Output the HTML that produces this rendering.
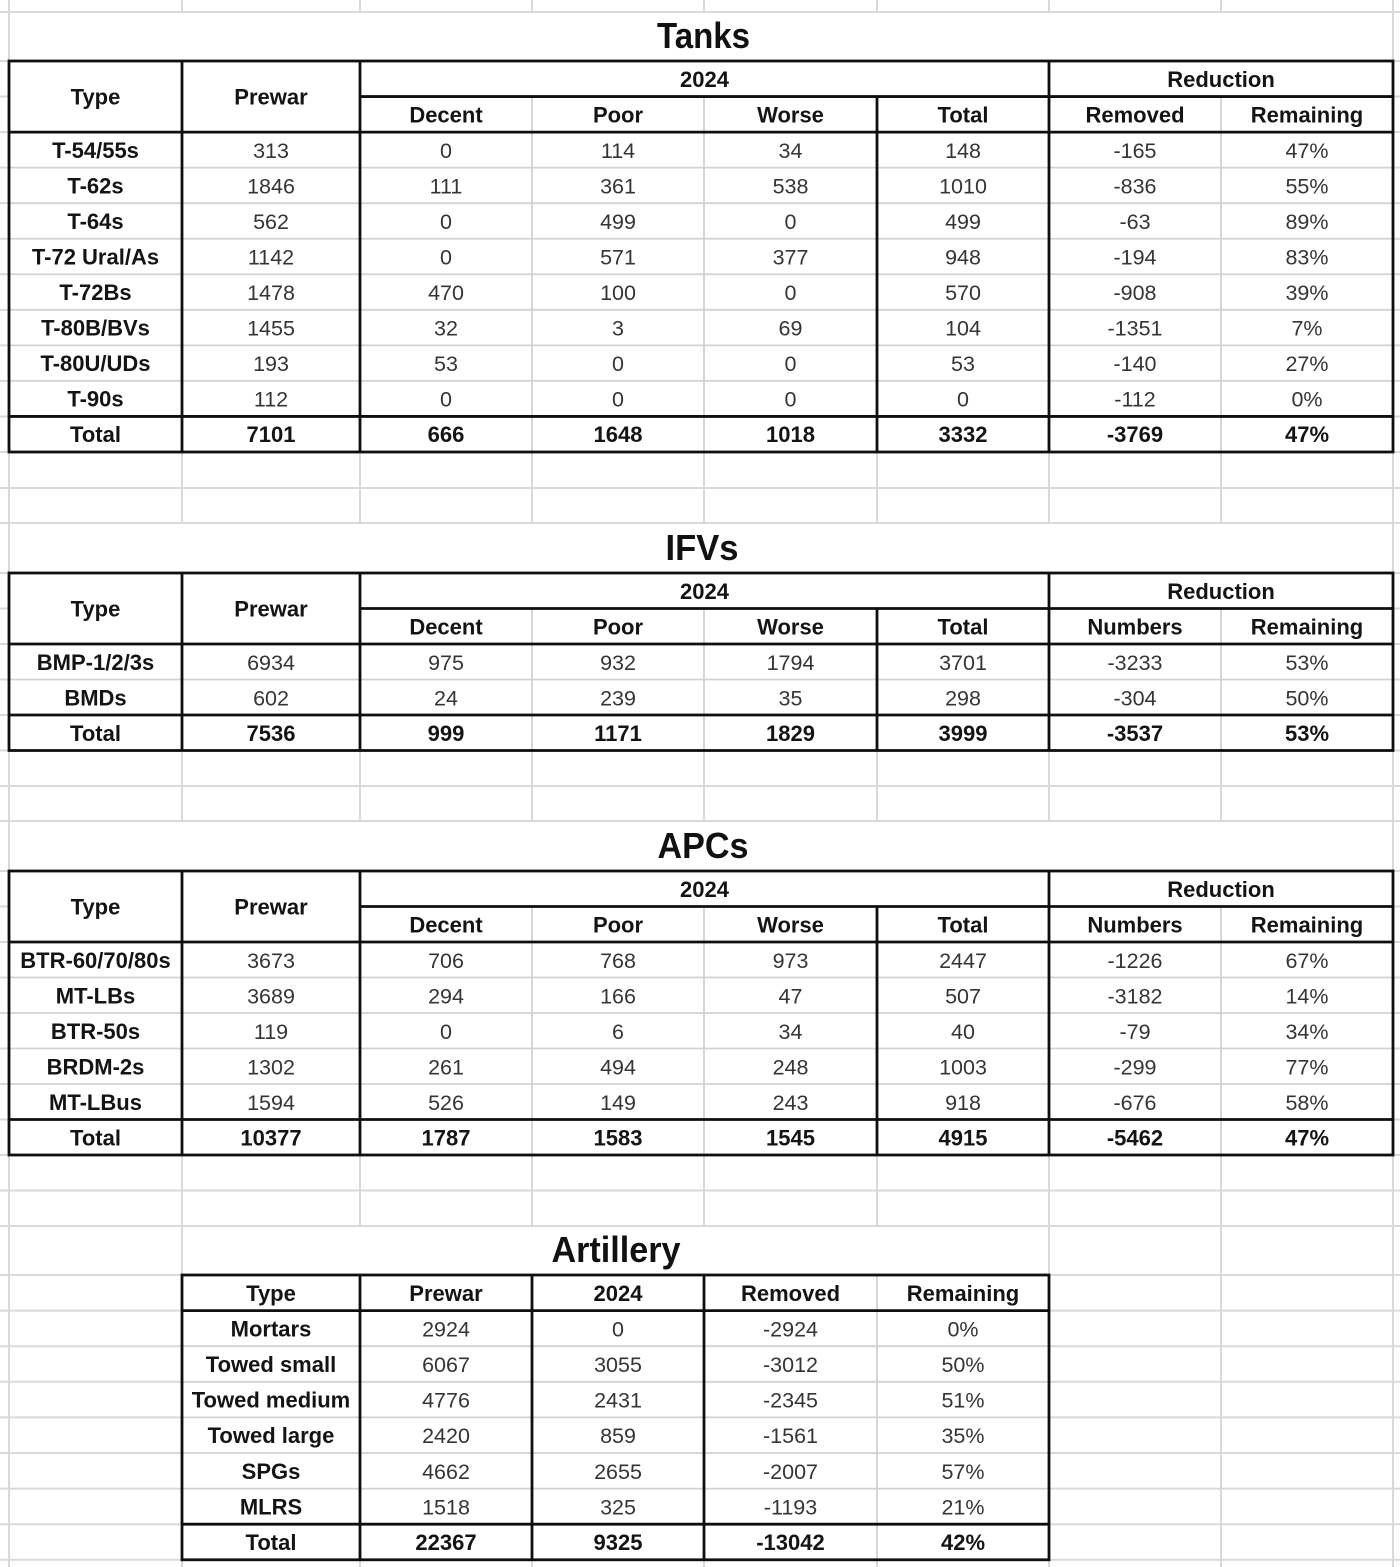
<!DOCTYPE html>
<html>
<head>
<meta charset="utf-8">
<style>
  html, body { margin:0; padding:0; background:#fff; }
  body { width:1400px; height:1567px; overflow:hidden; }
  svg { display:block; }
  .b { font-family:"Liberation Sans", Arial, sans-serif; font-weight:bold; font-size:22px; fill:#141414; text-anchor:middle; }
  .n { font-family:"Liberation Sans", Arial, sans-serif; font-weight:normal; font-size:21.5px; fill:#353535; text-anchor:middle; }
  .t { font-family:"Liberation Sans", Arial, sans-serif; font-weight:bold; font-size:36px; fill:#111; text-anchor:middle; }
  .g { stroke:#d9d9d9; stroke-width:2; fill:none; }
  .l { stroke:#d2d2d2; stroke-width:1.8; fill:none; }
  .k { stroke:#0f0f0f; stroke-width:2.8; fill:none; }
</style>
</head>
<body>
<svg width="1400" height="1567" viewBox="0 0 1400 1567" xmlns="http://www.w3.org/2000/svg">
  <rect x="0" y="0" width="1400" height="1567" fill="#fff"/>

  <!-- spreadsheet gridlines -->
  <path class="g" d="
    M0 12H1400 M0 61H1400 M0 96.55H1400 M0 132.09H1400 M0 167.64H1400 M0 203.18H1400 M0 238.73H1400 M0 274.27H1400
    M0 309.82H1400 M0 345.36H1400 M0 380.91H1400 M0 416.45H1400 M0 452H1400 M0 488H1400 M0 523H1400
    M0 573H1400 M0 608.5H1400 M0 644H1400 M0 679.5H1400 M0 715H1400 M0 750.5H1400 M0 786H1400 M0 821H1400
    M0 871H1400 M0 906.5H1400 M0 942H1400 M0 977.5H1400 M0 1013H1400 M0 1048.5H1400 M0 1084H1400 M0 1119.5H1400
    M0 1155H1400 M0 1190.5H1400 M0 1226H1400 M0 1275H1400 M0 1310.6H1400 M0 1346.2H1400 M0 1381.8H1400
    M0 1417.4H1400 M0 1453H1400 M0 1488.6H1400 M0 1524.2H1400 M0 1559.8H1400
    M9 0V1567 M182 0V1567 M360 0V1567 M532 0V1567 M704 0V1567 M877 0V1567 M1049 0V1567 M1221 0V1567 M1393 0V1567"/>

  <!-- merged title cells -->
  <rect x="10.2" y="13" width="1381.6" height="47" fill="#fff"/>
  <rect x="10.2" y="524" width="1381.6" height="48" fill="#fff"/>
  <rect x="10.2" y="822" width="1381.6" height="48" fill="#fff"/>
  <rect x="183.2" y="1227" width="864.6" height="47" fill="#fff"/>

  <!-- titles -->
  <text class="t" x="703.5" y="48" textLength="93" lengthAdjust="spacingAndGlyphs">Tanks</text>
  <text class="t" x="702" y="560" textLength="73" lengthAdjust="spacingAndGlyphs">IFVs</text>
  <text class="t" x="703" y="858" textLength="91" lengthAdjust="spacingAndGlyphs">APCs</text>
  <text class="t" x="616" y="1262" textLength="129" lengthAdjust="spacingAndGlyphs">Artillery</text>

  <!-- ================= TANKS TABLE ================= -->
  <rect x="9" y="61" width="1384" height="391" fill="#fff"/>
  <path class="l" d="M532 96.55V452 M704 96.55V452 M1221 96.55V452
    M9 167.64H1393 M9 203.18H1393 M9 238.73H1393 M9 274.27H1393 M9 309.82H1393 M9 345.36H1393 M9 380.91H1393"/>
  <rect class="k" x="9" y="61" width="1384" height="391"/>
  <path class="k" d="M182 61V452 M360 61V452 M877 96.55V452 M1049 61V452
    M360 96.55H1393 M9 132.09H1393 M9 416.45H1393"/>

  <text class="b" x="95.5" y="104.5">Type</text>
  <text class="b" x="271" y="104.5">Prewar</text>
  <text class="b" x="704.5" y="86.8">2024</text>
  <text class="b" x="1221" y="86.8">Reduction</text>
  <text class="b" x="446" y="122.3">Decent</text>
  <text class="b" x="618" y="122.3">Poor</text>
  <text class="b" x="790.5" y="122.3">Worse</text>
  <text class="b" x="963" y="122.3">Total</text>
  <text class="b" x="1135" y="122.3">Removed</text>
  <text class="b" x="1307" y="122.3">Remaining</text>

  <g>
    <text class="b" x="95.5" y="157.8">T-54/55s</text><text class="n" x="271" y="157.8">313</text><text class="n" x="446" y="157.8">0</text><text class="n" x="618" y="157.8">114</text><text class="n" x="790.5" y="157.8">34</text><text class="n" x="963" y="157.8">148</text><text class="n" x="1135" y="157.8">-165</text><text class="n" x="1307" y="157.8">47%</text>
    <text class="b" x="95.5" y="193.3">T-62s</text><text class="n" x="271" y="193.3">1846</text><text class="n" x="446" y="193.3">111</text><text class="n" x="618" y="193.3">361</text><text class="n" x="790.5" y="193.3">538</text><text class="n" x="963" y="193.3">1010</text><text class="n" x="1135" y="193.3">-836</text><text class="n" x="1307" y="193.3">55%</text>
    <text class="b" x="95.5" y="228.9">T-64s</text><text class="n" x="271" y="228.9">562</text><text class="n" x="446" y="228.9">0</text><text class="n" x="618" y="228.9">499</text><text class="n" x="790.5" y="228.9">0</text><text class="n" x="963" y="228.9">499</text><text class="n" x="1135" y="228.9">-63</text><text class="n" x="1307" y="228.9">89%</text>
    <text class="b" x="95.5" y="264.4">T-72 Ural/As</text><text class="n" x="271" y="264.4">1142</text><text class="n" x="446" y="264.4">0</text><text class="n" x="618" y="264.4">571</text><text class="n" x="790.5" y="264.4">377</text><text class="n" x="963" y="264.4">948</text><text class="n" x="1135" y="264.4">-194</text><text class="n" x="1307" y="264.4">83%</text>
    <text class="b" x="95.5" y="299.9">T-72Bs</text><text class="n" x="271" y="299.9">1478</text><text class="n" x="446" y="299.9">470</text><text class="n" x="618" y="299.9">100</text><text class="n" x="790.5" y="299.9">0</text><text class="n" x="963" y="299.9">570</text><text class="n" x="1135" y="299.9">-908</text><text class="n" x="1307" y="299.9">39%</text>
    <text class="b" x="95.5" y="335.5">T-80B/BVs</text><text class="n" x="271" y="335.5">1455</text><text class="n" x="446" y="335.5">32</text><text class="n" x="618" y="335.5">3</text><text class="n" x="790.5" y="335.5">69</text><text class="n" x="963" y="335.5">104</text><text class="n" x="1135" y="335.5">-1351</text><text class="n" x="1307" y="335.5">7%</text>
    <text class="b" x="95.5" y="371">T-80U/UDs</text><text class="n" x="271" y="371">193</text><text class="n" x="446" y="371">53</text><text class="n" x="618" y="371">0</text><text class="n" x="790.5" y="371">0</text><text class="n" x="963" y="371">53</text><text class="n" x="1135" y="371">-140</text><text class="n" x="1307" y="371">27%</text>
    <text class="b" x="95.5" y="406.6">T-90s</text><text class="n" x="271" y="406.6">112</text><text class="n" x="446" y="406.6">0</text><text class="n" x="618" y="406.6">0</text><text class="n" x="790.5" y="406.6">0</text><text class="n" x="963" y="406.6">0</text><text class="n" x="1135" y="406.6">-112</text><text class="n" x="1307" y="406.6">0%</text>
    <text class="b" x="95.5" y="442.1">Total</text><text class="b" x="271" y="442.1">7101</text><text class="b" x="446" y="442.1">666</text><text class="b" x="618" y="442.1">1648</text><text class="b" x="790.5" y="442.1">1018</text><text class="b" x="963" y="442.1">3332</text><text class="b" x="1135" y="442.1">-3769</text><text class="b" x="1307" y="442.1">47%</text>
  </g>

  <!-- ================= IFV TABLE ================= -->
  <rect x="9" y="573" width="1384" height="177.5" fill="#fff"/>
  <path class="l" d="M532 608.5V750.5 M704 608.5V750.5 M1221 608.5V750.5 M9 679.5H1393"/>
  <rect class="k" x="9" y="573" width="1384" height="177.5"/>
  <path class="k" d="M182 573V750.5 M360 573V750.5 M877 608.5V750.5 M1049 573V750.5
    M360 608.5H1393 M9 644H1393 M9 715H1393"/>

  <text class="b" x="95.5" y="616.5">Type</text>
  <text class="b" x="271" y="616.5">Prewar</text>
  <text class="b" x="704.5" y="598.8">2024</text>
  <text class="b" x="1221" y="598.8">Reduction</text>
  <text class="b" x="446" y="634.3">Decent</text>
  <text class="b" x="618" y="634.3">Poor</text>
  <text class="b" x="790.5" y="634.3">Worse</text>
  <text class="b" x="963" y="634.3">Total</text>
  <text class="b" x="1135" y="634.3">Numbers</text>
  <text class="b" x="1307" y="634.3">Remaining</text>

  <text class="b" x="95.5" y="669.8">BMP-1/2/3s</text><text class="n" x="271" y="669.8">6934</text><text class="n" x="446" y="669.8">975</text><text class="n" x="618" y="669.8">932</text><text class="n" x="790.5" y="669.8">1794</text><text class="n" x="963" y="669.8">3701</text><text class="n" x="1135" y="669.8">-3233</text><text class="n" x="1307" y="669.8">53%</text>
  <text class="b" x="95.5" y="705.3">BMDs</text><text class="n" x="271" y="705.3">602</text><text class="n" x="446" y="705.3">24</text><text class="n" x="618" y="705.3">239</text><text class="n" x="790.5" y="705.3">35</text><text class="n" x="963" y="705.3">298</text><text class="n" x="1135" y="705.3">-304</text><text class="n" x="1307" y="705.3">50%</text>
  <text class="b" x="95.5" y="740.8">Total</text><text class="b" x="271" y="740.8">7536</text><text class="b" x="446" y="740.8">999</text><text class="b" x="618" y="740.8">1171</text><text class="b" x="790.5" y="740.8">1829</text><text class="b" x="963" y="740.8">3999</text><text class="b" x="1135" y="740.8">-3537</text><text class="b" x="1307" y="740.8">53%</text>

  <!-- ================= APC TABLE ================= -->
  <rect x="9" y="871" width="1384" height="284" fill="#fff"/>
  <path class="l" d="M532 906.5V1155 M704 906.5V1155 M1221 906.5V1155
    M9 977.5H1393 M9 1013H1393 M9 1048.5H1393 M9 1084H1393"/>
  <rect class="k" x="9" y="871" width="1384" height="284"/>
  <path class="k" d="M182 871V1155 M360 871V1155 M877 906.5V1155 M1049 871V1155
    M360 906.5H1393 M9 942H1393 M9 1119.5H1393"/>

  <text class="b" x="95.5" y="914.5">Type</text>
  <text class="b" x="271" y="914.5">Prewar</text>
  <text class="b" x="704.5" y="896.8">2024</text>
  <text class="b" x="1221" y="896.8">Reduction</text>
  <text class="b" x="446" y="932.3">Decent</text>
  <text class="b" x="618" y="932.3">Poor</text>
  <text class="b" x="790.5" y="932.3">Worse</text>
  <text class="b" x="963" y="932.3">Total</text>
  <text class="b" x="1135" y="932.3">Numbers</text>
  <text class="b" x="1307" y="932.3">Remaining</text>

  <text class="b" x="95.5" y="967.8">BTR-60/70/80s</text><text class="n" x="271" y="967.8">3673</text><text class="n" x="446" y="967.8">706</text><text class="n" x="618" y="967.8">768</text><text class="n" x="790.5" y="967.8">973</text><text class="n" x="963" y="967.8">2447</text><text class="n" x="1135" y="967.8">-1226</text><text class="n" x="1307" y="967.8">67%</text>
  <text class="b" x="95.5" y="1003.3">MT-LBs</text><text class="n" x="271" y="1003.3">3689</text><text class="n" x="446" y="1003.3">294</text><text class="n" x="618" y="1003.3">166</text><text class="n" x="790.5" y="1003.3">47</text><text class="n" x="963" y="1003.3">507</text><text class="n" x="1135" y="1003.3">-3182</text><text class="n" x="1307" y="1003.3">14%</text>
  <text class="b" x="95.5" y="1038.8">BTR-50s</text><text class="n" x="271" y="1038.8">119</text><text class="n" x="446" y="1038.8">0</text><text class="n" x="618" y="1038.8">6</text><text class="n" x="790.5" y="1038.8">34</text><text class="n" x="963" y="1038.8">40</text><text class="n" x="1135" y="1038.8">-79</text><text class="n" x="1307" y="1038.8">34%</text>
  <text class="b" x="95.5" y="1074.3">BRDM-2s</text><text class="n" x="271" y="1074.3">1302</text><text class="n" x="446" y="1074.3">261</text><text class="n" x="618" y="1074.3">494</text><text class="n" x="790.5" y="1074.3">248</text><text class="n" x="963" y="1074.3">1003</text><text class="n" x="1135" y="1074.3">-299</text><text class="n" x="1307" y="1074.3">77%</text>
  <text class="b" x="95.5" y="1109.8">MT-LBus</text><text class="n" x="271" y="1109.8">1594</text><text class="n" x="446" y="1109.8">526</text><text class="n" x="618" y="1109.8">149</text><text class="n" x="790.5" y="1109.8">243</text><text class="n" x="963" y="1109.8">918</text><text class="n" x="1135" y="1109.8">-676</text><text class="n" x="1307" y="1109.8">58%</text>
  <text class="b" x="95.5" y="1145.3">Total</text><text class="b" x="271" y="1145.3">10377</text><text class="b" x="446" y="1145.3">1787</text><text class="b" x="618" y="1145.3">1583</text><text class="b" x="790.5" y="1145.3">1545</text><text class="b" x="963" y="1145.3">4915</text><text class="b" x="1135" y="1145.3">-5462</text><text class="b" x="1307" y="1145.3">47%</text>

  <!-- ================= ARTILLERY TABLE ================= -->
  <rect x="182" y="1275" width="867" height="284.8" fill="#fff"/>
  <path class="l" d="M877 1275V1559.8
    M182 1346.2H1049 M182 1381.8H1049 M182 1417.4H1049 M182 1453H1049 M182 1488.6H1049"/>
  <rect class="k" x="182" y="1275" width="867" height="284.8"/>
  <path class="k" d="M360 1275V1559.8 M532 1275V1559.8 M704 1275V1559.8
    M182 1310.6H1049 M182 1524.2H1049"/>

  <text class="b" x="271" y="1300.8">Type</text>
  <text class="b" x="446" y="1300.8">Prewar</text>
  <text class="b" x="618" y="1300.8">2024</text>
  <text class="b" x="790.5" y="1300.8">Removed</text>
  <text class="b" x="963" y="1300.8">Remaining</text>

  <text class="b" x="271" y="1336.4">Mortars</text><text class="n" x="446" y="1336.4">2924</text><text class="n" x="618" y="1336.4">0</text><text class="n" x="790.5" y="1336.4">-2924</text><text class="n" x="963" y="1336.4">0%</text>
  <text class="b" x="271" y="1372">Towed small</text><text class="n" x="446" y="1372">6067</text><text class="n" x="618" y="1372">3055</text><text class="n" x="790.5" y="1372">-3012</text><text class="n" x="963" y="1372">50%</text>
  <text class="b" x="271" y="1407.6">Towed medium</text><text class="n" x="446" y="1407.6">4776</text><text class="n" x="618" y="1407.6">2431</text><text class="n" x="790.5" y="1407.6">-2345</text><text class="n" x="963" y="1407.6">51%</text>
  <text class="b" x="271" y="1443.2">Towed large</text><text class="n" x="446" y="1443.2">2420</text><text class="n" x="618" y="1443.2">859</text><text class="n" x="790.5" y="1443.2">-1561</text><text class="n" x="963" y="1443.2">35%</text>
  <text class="b" x="271" y="1478.8">SPGs</text><text class="n" x="446" y="1478.8">4662</text><text class="n" x="618" y="1478.8">2655</text><text class="n" x="790.5" y="1478.8">-2007</text><text class="n" x="963" y="1478.8">57%</text>
  <text class="b" x="271" y="1514.4">MLRS</text><text class="n" x="446" y="1514.4">1518</text><text class="n" x="618" y="1514.4">325</text><text class="n" x="790.5" y="1514.4">-1193</text><text class="n" x="963" y="1514.4">21%</text>
  <text class="b" x="271" y="1550">Total</text><text class="b" x="446" y="1550">22367</text><text class="b" x="618" y="1550">9325</text><text class="b" x="790.5" y="1550">-13042</text><text class="b" x="963" y="1550">42%</text>
</svg>
</body>
</html>
